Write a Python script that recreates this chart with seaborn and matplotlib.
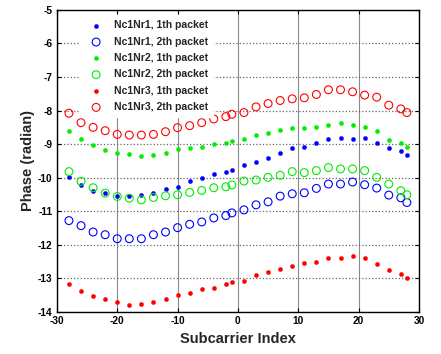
import numpy as np
import pandas as pd
import matplotlib
matplotlib.use("Agg")
import matplotlib.pyplot as plt
import seaborn as sns

# Grouped subcarrier indices (30 groups over 56 subcarriers)
subcarriers = [-28, -26, -24, -22, -20, -18, -16, -14, -12, -10, -8, -6, -4, -2, -1,
               1, 3, 5, 7, 9, 11, 13, 15, 17, 19, 21, 23, 25, 27, 28]

nr1_p1 = [-9.99, -10.23, -10.39, -10.46, -10.56, -10.55, -10.53, -10.45, -10.34, -10.27,
          -10.11, -10.00, -9.89, -9.83, -9.76, -9.62, -9.52, -9.41, -9.25, -9.12,
          -9.09, -8.97, -8.85, -8.82, -8.85, -8.82, -8.96, -9.11, -9.21, -9.33]
nr1_p2 = [-11.28, -11.43, -11.62, -11.70, -11.82, -11.82, -11.82, -11.70, -11.62, -11.49,
          -11.39, -11.32, -11.20, -11.13, -11.05, -10.96, -10.81, -10.72, -10.55, -10.48,
          -10.45, -10.32, -10.19, -10.19, -10.13, -10.21, -10.31, -10.52, -10.60, -10.74]
nr2_p1 = [-8.61, -8.84, -9.04, -9.19, -9.27, -9.30, -9.35, -9.32, -9.27, -9.16,
          -9.13, -9.08, -9.00, -8.96, -8.90, -8.85, -8.74, -8.66, -8.58, -8.53,
          -8.53, -8.48, -8.42, -8.36, -8.42, -8.50, -8.61, -8.87, -8.97, -9.10]
nr2_p2 = [-9.82, -10.11, -10.30, -10.46, -10.56, -10.61, -10.66, -10.59, -10.54, -10.51,
          -10.44, -10.38, -10.30, -10.27, -10.22, -10.10, -10.07, -9.99, -9.93, -9.82,
          -9.85, -9.79, -9.70, -9.74, -9.74, -9.79, -9.99, -10.19, -10.39, -10.51]
nr3_p1 = [-13.16, -13.38, -13.52, -13.62, -13.71, -13.79, -13.76, -13.71, -13.62, -13.49,
          -13.44, -13.32, -13.29, -13.18, -13.10, -13.08, -12.89, -12.81, -12.73, -12.62,
          -12.53, -12.50, -12.38, -12.38, -12.32, -12.40, -12.56, -12.75, -12.86, -13.00]
nr3_p2 = [-8.08, -8.36, -8.50, -8.60, -8.71, -8.73, -8.73, -8.71, -8.63, -8.51,
          -8.45, -8.36, -8.25, -8.18, -8.11, -8.06, -7.89, -7.79, -7.70, -7.65,
          -7.62, -7.52, -7.38, -7.38, -7.44, -7.54, -7.60, -7.84, -7.95, -8.06]

series_labels = ["Nc1Nr1, 1th packet", "Nc1Nr1, 2th packet",
                 "Nc1Nr2, 1th packet", "Nc1Nr2, 2th packet",
                 "Nc1Nr3, 1th packet", "Nc1Nr3, 2th packet"]
series_values = [nr1_p1, nr1_p2, nr2_p1, nr2_p2, nr3_p1, nr3_p2]
series_colors = ["#0000ff", "#0000ff", "#00ee00", "#00ee00", "#ff0000", "#ff0000"]
series_filled = [True, False, True, False, True, False]

x_ticks = [-30, -20, -10, 0, 10, 20, 30]
y_ticks = [-14, -13, -12, -11, -10, -9, -8, -7, -6, -5]

sns.set_style("white")
plt.rcParams["font.family"] = ["Liberation Sans", "DejaVu Sans"]
plt.rcParams["font.weight"] = "bold"

fig = plt.figure(figsize=(4.41, 3.54), dpi=100)
ax = fig.add_axes([0.129, 0.119, 0.821, 0.853])

for label, vals, col, filled in zip(series_labels, series_values, series_colors, series_filled):
    df = pd.DataFrame({"subcarrier": subcarriers, "phase": vals})
    if filled:
        sns.scatterplot(data=df, x="subcarrier", y="phase", ax=ax, marker="o",
                        s=9, color=col, edgecolor=col, linewidth=0.3, label=label,
                        zorder=3)
    else:
        sns.scatterplot(data=df, x="subcarrier", y="phase", ax=ax, marker="o",
                        s=32, facecolors="none", edgecolor=col, linewidth=0.8,
                        label=label, zorder=3)

ax.set_xlim(-30, 30)
ax.set_ylim(-14, -5)
ax.set_xticks(x_ticks)
ax.set_yticks(y_ticks)
ax.set_xticklabels([str(t) for t in x_ticks], fontsize=7.3, fontweight="bold")
ax.set_yticklabels([str(t) for t in y_ticks], fontsize=7.3, fontweight="bold")
ax.tick_params(direction="in", length=3, width=0.8, top=True, right=True,
               bottom=True, left=True, pad=3, colors="black")

ax.xaxis.grid(True, color="#8a8a8a", linestyle="-", linewidth=0.8)
ax.yaxis.grid(True, color="#666666", linestyle=":", linewidth=0.9)
ax.set_axisbelow(True)

for sp in ax.spines.values():
    sp.set_visible(True)
    sp.set_color("black")
    sp.set_linewidth(1.0)

ax.set_xlabel("Subcarrier Index", fontsize=10.5, fontweight="bold", labelpad=4)
ax.set_ylabel("Phase (radian)", fontsize=10.5, fontweight="bold", labelpad=2)

leg = ax.legend(loc="upper left", frameon=True, prop={"weight": "bold", "size": 7.6},
                handletextpad=0.7, labelspacing=0.6, borderpad=0.5,
                bbox_to_anchor=(0.05, 1.0))
leg.get_frame().set_facecolor("white")
leg.get_frame().set_edgecolor("white")
leg.get_frame().set_alpha(1.0)
leg.get_frame().set_boxstyle("square", pad=0)

fig.savefig("out.png", dpi=100)
